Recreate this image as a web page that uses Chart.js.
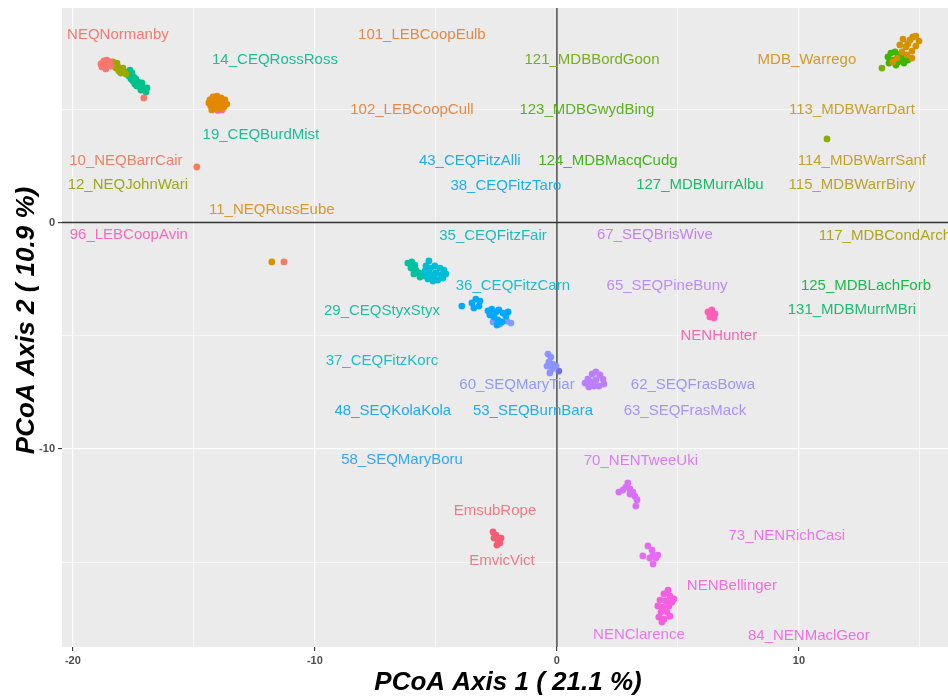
<!DOCTYPE html>
<html>
<head>
<meta charset="utf-8">
<script src="https://cdn.jsdelivr.net/npm/chart.js@4.4.1/dist/chart.umd.min.js"></script>
<style>
  html, body { margin: 0; padding: 0; background: #ffffff; }
  #wrap { width: 948px; height: 698px; }
</style>
</head>
<body>
<div id="wrap"><canvas id="c" width="948" height="698"></canvas></div>
<script>
// ---------------- DATA (PCoA coordinates) ----------------
const xTitle = 'PCoA Axis 1 ( 21.1 %)';
const yTitle = 'PCoA Axis 2 ( 10.9 %)';
const xTickLabels = ['-20', '-10', '0', '10'];
const yTickLabels = ['-10', '0'];

// point clusters
const ptsNormanby = [[-18.84,7.00],[-18.72,7.13],[-18.60,7.17],[-18.47,7.09],[-18.80,6.87],[-18.68,6.91],[-18.55,6.95],[-18.43,6.91],[-18.64,6.78],[-18.76,7.04],[-17.07,5.50]];
const ptsJohnWari = [[-18.35,7.09],[-18.26,7.00],[-18.18,7.04],[-18.14,6.87],[-18.06,6.82],[-17.98,6.73],[-17.89,6.64],[-17.81,6.56],[-18.02,6.60],[-18.22,6.82],[-18.10,6.69],[-17.93,6.82],[-18.31,6.91]];
const ptsRossRoss = [[-17.73,6.64],[-17.64,6.73],[-17.56,6.60],[-17.69,6.47],[-17.48,6.42],[-17.60,6.34],[-17.40,6.34],[-17.31,6.20],[-17.44,6.11],[-17.23,6.07],[-17.15,6.16],[-17.11,5.98],[-17.02,5.89],[-16.94,5.94],[-17.19,5.85],[-16.98,5.76],[-17.36,6.03],[-17.52,6.25]];
const ptsLEBCoop = [[-14.34,5.41],[-14.21,5.54],[-14.05,5.58],[-13.88,5.50],[-13.72,5.41],[-13.64,5.23],[-13.76,5.10],[-13.93,5.01],[-14.13,5.06],[-14.30,5.14],[-14.38,5.28],[-14.17,5.32],[-13.97,5.28],[-13.80,5.23],[-14.05,5.45],[-14.26,4.97]];
const ptsCoopAvin = [[-14.01,4.95],[-13.84,4.97]];
const ptsBarrCair = [[-14.88,2.45],[-11.28,-1.74]];
const ptsRussEube = [[-11.78,-1.74]];
const ptsWarrego = [[14.71,8.19],[14.96,8.01],[14.83,7.79],[14.59,8.06],[14.30,8.10],[14.17,7.84],[14.42,7.75],[14.67,7.57],[14.46,7.40],[14.05,7.26],[14.67,7.26],[14.26,7.53],[13.88,7.09],[14.83,8.23],[14.50,7.88]];
const ptsMDBgreen = [[13.68,7.31],[13.80,7.48],[13.97,7.53],[14.13,7.40],[14.30,7.26],[13.88,7.17],[14.09,7.09],[14.34,7.04],[13.72,7.04],[14.01,6.95],[14.50,7.17]];
const ptsBordGoon = [[13.43,6.82]];
const ptsWarrSanf = [[11.16,3.69]];
const ptsStyxStyx = [[-6.16,-1.79],[-6.00,-1.74],[-5.87,-1.88],[-6.03,-2.01],[-5.83,-2.10],[-5.70,-2.23],[-5.91,-2.27],[-5.66,-2.41]];
const ptsFitzFair = [[-5.29,-1.70],[-5.41,-1.92],[-5.21,-2.01],[-5.04,-1.92],[-4.83,-2.01],[-4.67,-2.10],[-4.59,-2.27],[-4.71,-2.45],[-4.92,-2.54],[-5.12,-2.58],[-5.33,-2.49],[-5.50,-2.36],[-5.00,-2.23],[-5.25,-2.27],[-4.79,-2.32],[-5.45,-2.14],[-5.08,-2.41]];
const ptsFitzCarn = [[-3.93,-3.69],[-3.51,-3.55],[-3.35,-3.38],[-3.18,-3.47],[-3.43,-3.77],[-3.22,-3.69],[-2.85,-3.90],[-2.69,-3.82],[-2.52,-3.95],[-2.40,-3.86],[-2.23,-4.00],[-2.11,-4.13],[-2.60,-4.17],[-2.44,-4.30],[-2.27,-4.39],[-2.77,-4.08],[-2.02,-3.95],[-2.48,-4.53]];
const ptsBurnBara = [[-2.64,-4.39],[-2.36,-4.48],[-2.07,-4.35],[-1.90,-4.44]];
const ptsMaryTiar = [[-0.37,-5.81],[-0.25,-5.94],[-0.33,-6.16],[-0.17,-6.25],[-0.41,-6.34],[-0.21,-6.47],[-0.29,-6.64],[-0.04,-6.34]];
const ptsMaryBoru = [[0.08,-6.56]];
const ptsFrasBowa = [[1.16,-7.09],[1.28,-6.91],[1.45,-6.69],[1.61,-6.60],[1.78,-6.73],[1.90,-6.91],[1.94,-7.13],[1.74,-7.22],[1.53,-7.22],[1.32,-7.26],[1.61,-6.95],[1.40,-7.04]];
const ptsHunter = [[6.24,-3.95],[6.40,-3.86],[6.53,-4.04],[6.32,-4.17],[6.49,-4.22],[6.36,-4.08]];
const ptsTweeUki = [[2.93,-11.50],[2.85,-11.68],[2.56,-11.90],[2.73,-11.81],[3.02,-11.77],[3.14,-11.90],[3.22,-12.08],[3.31,-12.25],[3.26,-12.52],[3.02,-11.99]];
const ptsEmvic = [[-2.64,-13.66],[-2.52,-13.80],[-2.60,-13.93],[-2.44,-14.02],[-2.36,-14.15],[-2.48,-14.24],[-2.31,-13.93]];
const ptsRichCasi = [[3.76,-14.28],[3.93,-14.46],[3.55,-14.72],[3.97,-14.68],[4.17,-14.68],[4.09,-14.81],[3.97,-15.08],[3.84,-14.81]];
const ptsBellinger = [[4.59,-16.23],[4.42,-16.40],[4.67,-16.49],[4.26,-16.67],[4.50,-16.71],[4.75,-16.76],[4.17,-16.93],[4.38,-16.98],[4.63,-16.93],[4.30,-17.20],[4.55,-17.20],[4.21,-17.42],[4.42,-17.51],[4.67,-17.38],[4.34,-17.64],[4.83,-16.62]];

const seriesNames = ['NEQNormanby','12_NEQJohnWari','14_CEQRossRoss','102_LEBCoopCull','96_LEBCoopAvin','10_NEQBarrCair','11_NEQRussEube','MDB_Warrego','127_MDBMurrAlbu','121_MDBBordGoon','114_MDBWarrSanf','29_CEQStyxStyx','35_CEQFitzFair','36_CEQFitzCarn','53_SEQBurnBara','60_SEQMaryTiar','58_SEQMaryBoru','62_SEQFrasBowa','NENHunter','70_NENTweeUki','EmvicVict','73_NENRichCasi','NENBellinger'];
const seriesPoints = [ptsNormanby, ptsJohnWari, ptsRossRoss, ptsLEBCoop, ptsCoopAvin, ptsBarrCair, ptsRussEube, ptsWarrego, ptsMDBgreen, ptsBordGoon, ptsWarrSanf, ptsStyxStyx, ptsFitzFair, ptsFitzCarn, ptsBurnBara, ptsMaryTiar, ptsMaryBoru, ptsFrasBowa, ptsHunter, ptsTweeUki, ptsEmvic, ptsRichCasi, ptsBellinger];
const seriesColors = ['#F8766D','#9AA800','#00C08B','#E38900','#FF61C3','#EF7D5E','#D89000','#D39200','#3DB700','#7CAE00','#8AAB00','#00C1A0','#00BCD8','#00A9FF','#7F9BFF','#8C94FF','#6F6FE8','#BB7EFF','#FF5FB8','#D771F5','#F25D73','#E56BF0','#F55EE0'];

// text annotations
const labelNames = ['NEQNormanby','14_CEQRossRoss','19_CEQBurdMist','10_NEQBarrCair','12_NEQJohnWari','11_NEQRussEube','96_LEBCoopAvin','101_LEBCoopEulb','121_MDBBordGoon','102_LEBCoopCull','123_MDBGwydBing','43_CEQFitzAlli','124_MDBMacqCudg','38_CEQFitzTaro','35_CEQFitzFair','MDB_Warrego','113_MDBWarrDart','114_MDBWarrSanf','127_MDBMurrAlbu','115_MDBWarrBiny','117_MDBCondArch','125_MDBLachForb','131_MDBMurrMBri','67_SEQBrisWive','65_SEQPineBuny','NENHunter','62_SEQFrasBowa','36_CEQFitzCarn','29_CEQStyxStyx','37_CEQFitzKorc','60_SEQMaryTiar','48_SEQKolaKola','53_SEQBurnBara','63_SEQFrasMack','58_SEQMaryBoru','70_NENTweeUki','EmsubRope','EmvicVict','NENClarence','73_NENRichCasi','NENBellinger','84_NENMaclGeor'];
const labelX = [-18.14,-11.65,-12.23,-17.81,-17.73,-11.78,-17.69,-5.58,1.45,-5.99,1.24,-3.60,2.11,-2.11,-2.64,10.33,12.19,12.60,5.91,12.19,13.55,12.77,12.19,4.05,4.55,6.69,5.62,-1.82,-7.23,-7.23,-1.65,-6.78,-0.99,5.29,-6.40,3.47,-2.56,-2.27,3.39,9.50,7.23,10.41];
const labelY = [8.28,7.17,3.86,2.71,1.66,0.55,-0.55,8.28,7.17,4.97,4.97,2.72,2.72,1.61,-0.60,7.17,4.97,2.72,1.66,1.66,-0.60,-2.80,-3.86,-0.55,-2.80,-5.01,-7.17,-2.80,-3.91,-6.11,-7.17,-8.32,-8.32,-8.32,-10.49,-10.53,-12.74,-14.94,-18.21,-13.84,-16.05,-18.25];
const labelColors = ['#F07B72','#1DBE95','#1DBE95','#EC8068','#9FA51C','#D9962A','#F36BBE','#E38A48','#77AE1E','#E38A48','#5EB21E','#1EAEE4','#44B41E','#1EB0E8','#1EBCC2','#D39A2A','#C9A02A','#C4A22A','#1EB86A','#BBA22A','#AFA51E','#1EB94A','#1EBA74','#C583EE','#BE8BF2','#F06AB4','#9C97F3','#1EBDD2','#1EBFA2','#1EBEC8','#8E9CF3','#1EAAF2','#1EB0EC','#A894F3','#35A6F0','#D97DEE','#EF7A84','#EF7A84','#E777EC','#EB75E6','#EE70E0','#EE70E0'];

// ---------------- CHART ----------------
const X_MIN = -20.45, X_MAX = 16.16, Y_MIN = -18.74, Y_MAX = 9.47;

const datasets = seriesPoints.map((pts, i) => ({
  label: seriesNames[i],
  data: pts.map(p => ({ x: p[0], y: p[1] })),
  backgroundColor: seriesColors[i],
  borderWidth: 0,
  pointRadius: 3.4,
  pointHoverRadius: 3.4
}));

const isMajor = v => Math.abs(v % 10) < 1e-9;

const panelBg = {
  id: 'panelBg',
  beforeDraw(chart) {
    const { ctx, chartArea: a } = chart;
    ctx.save();
    ctx.fillStyle = '#EBEBEB';
    ctx.fillRect(a.left, a.top, a.right - a.left, a.bottom - a.top);
    ctx.restore();
  }
};

const zeroLines = {
  id: 'zeroLines',
  beforeDatasetsDraw(chart) {
    const { ctx, chartArea: a, scales } = chart;
    const x0 = scales.x.getPixelForValue(0);
    const y0 = scales.y.getPixelForValue(0);
    ctx.save();
    ctx.strokeStyle = '#333333';
    ctx.lineWidth = 1.3;
    ctx.beginPath();
    ctx.moveTo(x0, a.top); ctx.lineTo(x0, a.bottom);
    ctx.moveTo(a.left, y0); ctx.lineTo(a.right, y0);
    ctx.stroke();
    ctx.restore();
  }
};

const textLabels = {
  id: 'textLabels',
  afterDatasetsDraw(chart) {
    const { ctx, scales } = chart;
    ctx.save();
    ctx.font = '15px "Liberation Sans", Arial, sans-serif';
    ctx.textAlign = 'center';
    ctx.textBaseline = 'middle';
    labelNames.forEach((t, i) => {
      ctx.fillStyle = labelColors[i];
      ctx.fillText(t, scales.x.getPixelForValue(labelX[i]), scales.y.getPixelForValue(labelY[i]));
    });
    ctx.restore();
  }
};

const axisTitles = {
  id: 'axisTitles',
  afterDraw(chart) {
    const { ctx, chartArea: a } = chart;
    ctx.save();
    ctx.fillStyle = '#000000';
    ctx.font = 'italic bold 26px "Liberation Sans", Arial, sans-serif';
    ctx.textAlign = 'center';
    ctx.textBaseline = 'middle';
    ctx.fillText(xTitle, (a.left + a.right) / 2 + 3, 683);
    ctx.translate(27, (a.top + a.bottom) / 2 - 7);
    ctx.rotate(-Math.PI / 2);
    ctx.fillText(yTitle, 0, 0);
    ctx.restore();
  }
};

const gridOpts = {
  color: '#FFFFFF',
  lineWidth: ctx => (ctx.tick && isMajor(ctx.tick.value)) ? 1.2 : 0.6,
  tickColor: ctx => (ctx.tick && isMajor(ctx.tick.value)) ? '#333333' : 'rgba(0,0,0,0)',
  tickWidth: 1.1,
  tickLength: 4,
  drawTicks: true
};

new Chart(document.getElementById('c'), {
  type: 'scatter',
  data: { datasets },
  plugins: [panelBg, zeroLines, textLabels, axisTitles],
  options: {
    responsive: false,
    devicePixelRatio: 1,
    animation: false,
    events: [],
    layout: { autoPadding: false, padding: { top: 8, right: 0, left: 0, bottom: 0 } },
    plugins: { legend: { display: false }, tooltip: { enabled: false }, title: { display: false } },
    scales: {
      x: {
        type: 'linear', min: X_MIN, max: X_MAX,
        border: { display: false },
        grid: gridOpts,
        afterFit: s => { s.height = 51; s.paddingLeft = 0; s.paddingRight = 0; },
        ticks: {
          stepSize: 5, includeBounds: false, autoSkip: false, maxRotation: 0, padding: 3,
          color: '#4D4D4D', font: { family: '"Liberation Sans", Arial, sans-serif', size: 11, weight: 'bold' },
          callback: v => xTickLabels.includes(String(v)) ? String(v) : ''
        }
      },
      y: {
        type: 'linear', min: Y_MIN, max: Y_MAX,
        border: { display: false },
        grid: gridOpts,
        afterFit: s => { s.width = 62; s.paddingTop = 0; s.paddingBottom = 0; },
        ticks: {
          stepSize: 5, includeBounds: false, autoSkip: false, padding: 3,
          color: '#4D4D4D', font: { family: '"Liberation Sans", Arial, sans-serif', size: 11, weight: 'bold' },
          callback: v => yTickLabels.includes(String(v)) ? String(v) : ''
        }
      }
    }
  }
});
</script>
</body>
</html>
